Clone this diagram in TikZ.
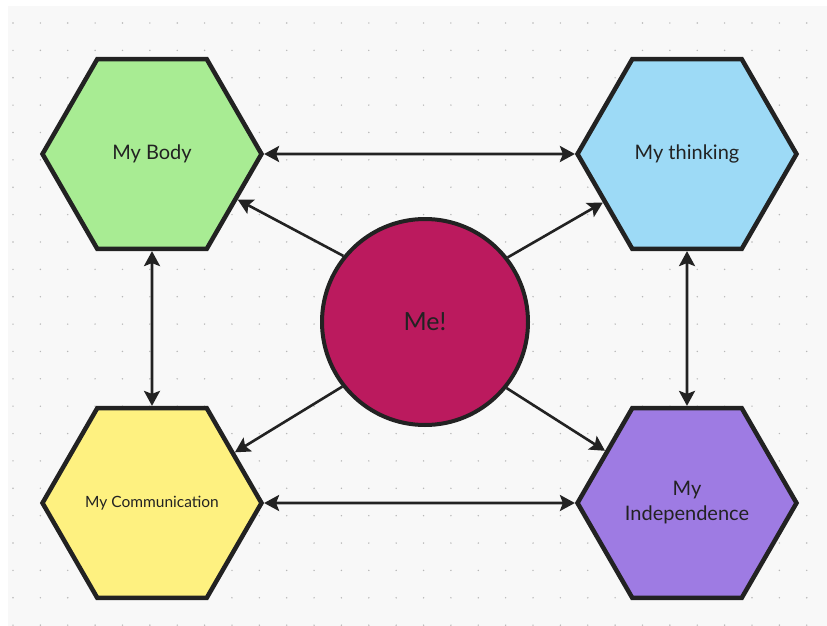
\documentclass[tikz,border=0pt]{standalone}
\usepackage{fontspec}
\setmainfont{Lato}
\usetikzlibrary{shapes.geometric,arrows.meta}

\definecolor{bodygreen}{HTML}{A8EC93}
\definecolor{thinkblue}{HTML}{9DDAF6}
\definecolor{commyellow}{HTML}{FEF180}
\definecolor{indeppurple}{HTML}{9E7BE3}
\definecolor{memagenta}{HTML}{BB1A5E}
\definecolor{canvas}{HTML}{F8F8F8}
\definecolor{dotgray}{HTML}{B8B8B8}
\definecolor{ink}{HTML}{222222}

\tikzset{
  hexa/.style={regular polygon, regular polygon sides=6, minimum size=219pt,
    draw=ink, line width=4.5pt, inner sep=0pt, text=ink, align=center,
    font=\fontsize{20}{25}\selectfont},
  tip/.tip={Stealth[length=15pt,width=16pt,inset=3pt]},
  link/.style={draw=ink, line width=2.6pt, -tip},
  twoway/.style={draw=ink, line width=2.6pt, tip-tip},
}

\begin{document}
\begin{tikzpicture}[x=1pt,y=-1pt]
  \useasboundingbox (0,0) rectangle (827,626);

  %FOND
  \fill[white] (0,0) rectangle (827,626);
  \fill[canvas] (8,6) rectangle (827,626);
  \foreach \i in {0,...,29}
    \foreach \j in {0,...,22}
      \fill[dotgray] (13+27.37*\i,23+27.37*\j) circle (0.8);

  %HEXAGONES
  \node[hexa, fill=bodygreen] (body) at (152,154) {My Body};
  \node[hexa, fill=thinkblue] (think) at (687,154) {My thinking};
  \node[hexa, fill=commyellow, font=\fontsize{15.5}{20}\selectfont] (comm) at (152,503) {My Communication};
  \node[hexa, fill=indeppurple] (indep) at (687,503) {My\\Independence};

  %CERCLE
  \node[circle, draw=ink, line width=4pt, fill=memagenta, minimum size=206pt,
    text=ink, font=\fontsize{25}{30}\selectfont] (me) at (425,322) {Me!};

  %FLECHES
  \draw[twoway] (body) -- (think);
  \draw[twoway] (comm) -- (indep);
  \draw[twoway] (body) -- (comm);
  \draw[twoway] (think) -- (indep);

  \draw[link] (me.141) -- (body);
  \draw[link] (me.38) -- (think);
  \draw[link] (me.218) -- (comm);
  \draw[link] (me.321) -- (indep);
\end{tikzpicture}
\end{document}
